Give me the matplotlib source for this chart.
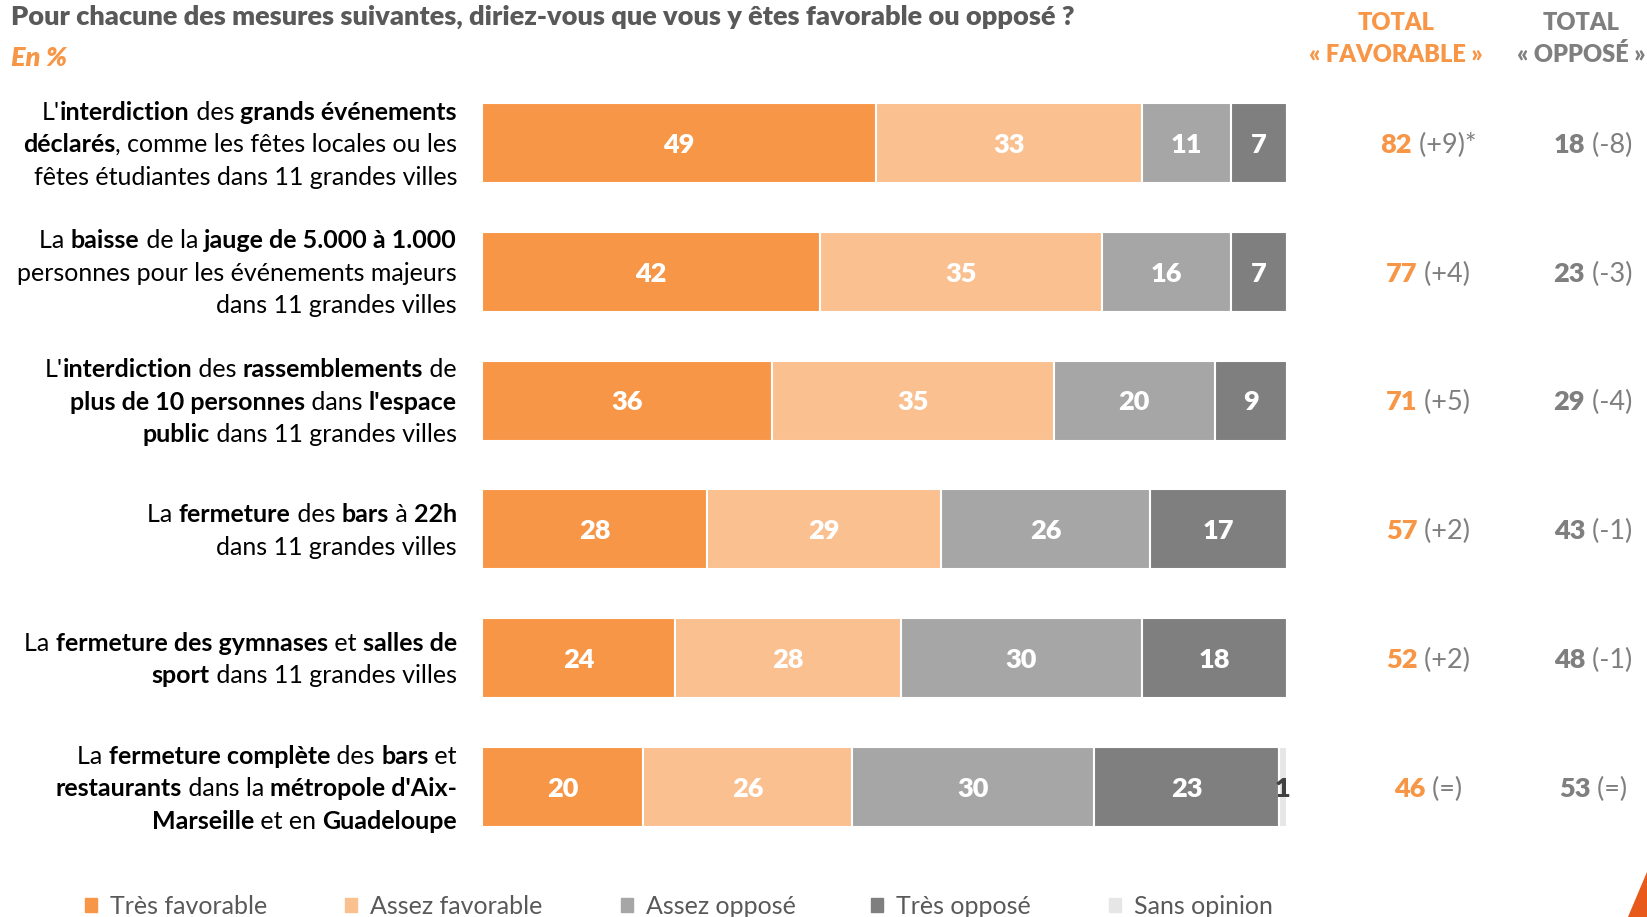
import numpy as np
import matplotlib
matplotlib.use("Agg")
import matplotlib.pyplot as plt
from matplotlib.patches import Rectangle, Polygon
from matplotlib.transforms import IdentityTransform, ScaledTranslation

plt.rcParams["font.family"] = ["Lato", "DejaVu Sans"]

W, H = 1647, 917

title = "Pour chacune des mesures suivantes, diriez-vous que vous y êtes favorable ou opposé ?"
subtitle = "En %"

# each label: list of lines, each line: list of (text, bold)
labels = [
    [[("L'", 0), ("interdiction", 1), (" des ", 0), ("grands événements", 1)],
     [("déclarés", 1), (", comme les fêtes locales ou les", 0)],
     [("fêtes étudiantes dans 11 grandes villes", 0)]],
    [[("La ", 0), ("baisse", 1), (" de la ", 0), ("jauge de 5.000 à 1.000", 1)],
     [("personnes pour les événements majeurs", 0)],
     [("dans 11 grandes villes", 0)]],
    [[("L'", 0), ("interdiction", 1), (" des ", 0), ("rassemblements", 1), (" de", 0)],
     [("plus de 10 personnes", 1), (" dans ", 0), ("l'espace", 1)],
     [("public", 1), (" dans 11 grandes villes", 0)]],
    [[("La ", 0), ("fermeture", 1), (" des ", 0), ("bars", 1), (" à ", 0), ("22h", 1)],
     [("dans 11 grandes villes", 0)]],
    [[("La ", 0), ("fermeture des gymnases", 1), (" et ", 0), ("salles de", 1)],
     [("sport", 1), (" dans 11 grandes villes", 0)]],
    [[("La ", 0), ("fermeture complète", 1), (" des ", 0), ("bars", 1), (" et", 0)],
     [("restaurants", 1), (" dans la ", 0), ("métropole d'Aix-", 1)],
     [("Marseille", 1), (" et en ", 0), ("Guadeloupe", 1)]],
]

series_names = ["Très favorable", "Assez favorable", "Assez opposé", "Très opposé", "Sans opinion"]
tres_fav = [49, 42, 36, 28, 24, 20]
assez_fav = [33, 35, 35, 29, 28, 26]
assez_opp = [11, 16, 20, 26, 30, 30]
tres_opp = [7, 7, 9, 17, 18, 23]
sans_op = [0, 0, 0, 0, 0, 1]

total_fav = [82, 77, 71, 57, 52, 46]
fav_change = ["(+9)*", "(+4)", "(+5)", "(+2)", "(+2)", "(=)"]
total_opp = [18, 23, 29, 43, 48, 53]
opp_change = ["(-8)", "(-3)", "(-4)", "(-1)", "(-1)", "(=)"]

colors = ["#F79646", "#FAC090", "#A6A6A6", "#7F7F7F", "#E6E6E6"]
value_colors = ["white", "white", "white", "white", "#404040"]
ORANGE = "#F79646"
GREY = "#7F7F7F"
DARK = "#595959"

SIZE = 18        # labels, legend
NUM_SIZE = 19.5  # numbers in bars and totals
HEAD_SIZE = 17
TITLE_SIZE = 19.5
HEAVY = "heavy"


def cap_of(size):
    return 0.72 * size * 100 / 72


fig = plt.figure(figsize=(W / 100, H / 100), dpi=100)
renderer = fig.canvas.get_renderer()
ident = IdentityTransform()

# bars
row0, step = 143, 128.8
ax_top = row0 - step / 2
ax = fig.add_axes([482 / W, 1 - (ax_top + 6 * step) / H, (1287 - 482) / W, 6 * step / H])
ax.set_xlim(0, 100)
ax.set_ylim(5.5, -0.5)
ax.axis("off")

shift = ScaledTranslation(0, -cap_of(NUM_SIZE) / 2 / 100, fig.dpi_scale_trans)
y = np.arange(len(tres_fav))
left = np.zeros(len(y))
for vals, col, tcol in zip([tres_fav, assez_fav, assez_opp, tres_opp, sans_op], colors, value_colors):
    vals = np.array(vals)
    ax.barh(y, vals, left=left, height=0.62, color=col, edgecolor="white", linewidth=1.5)
    for i, v in enumerate(vals):
        if v > 0:
            ax.text(left[i] + v / 2, i, str(v), ha="center", va="baseline", color=tcol,
                    fontsize=NUM_SIZE, fontweight=HEAVY, transform=ax.transData + shift)
    left += vals


def seg_width(s, weight, size):
    t = fig.text(0, 0, "|" + s + "|", transform=ident, fontsize=size, fontweight=weight)
    w = t.get_window_extent(renderer).width
    t.remove()
    t = fig.text(0, 0, "||", transform=ident, fontsize=size, fontweight=weight)
    w0 = t.get_window_extent(renderer).width
    t.remove()
    return w - w0


def rich_line(x, base, segs, size=SIZE, ha="left"):
    widths = [seg_width(s, wt, size) for s, wt, c in segs]
    total = sum(widths)
    if ha == "right":
        x -= total
    elif ha == "center":
        x -= total / 2
    for (s, wt, c), w in zip(segs, widths):
        fig.text(x, base, s, transform=ident, fontsize=size, color=c,
                 fontweight=wt, ha="left", va="baseline")
        x += w


line_h = 32.5
for i, lines in enumerate(labels):
    yc = ax.transData.transform((0, i))[1]
    n = len(lines)
    for k, line in enumerate(lines):
        base = yc + ((n - 1) / 2 - k) * line_h - cap_of(SIZE) / 2
        rich_line(457, base, [(s, "bold" if b else "normal", "black") for s, b in line], ha="right")
    nb = yc - cap_of(NUM_SIZE) / 2
    rich_line(1428, nb, [(str(total_fav[i]), HEAVY, ORANGE), (" " + fav_change[i], "normal", GREY)],
              size=NUM_SIZE, ha="center")
    rich_line(1593, nb, [(str(total_opp[i]), HEAVY, GREY), (" " + opp_change[i], "normal", GREY)],
              size=NUM_SIZE, ha="center")

# column headers
for xc, word, col in [(1396, "« FAVORABLE »", ORANGE), (1581, "« OPPOSÉ »", GREY)]:
    fig.text(xc, H - 30, "TOTAL", transform=ident, ha="center", va="baseline",
             fontsize=HEAD_SIZE, fontweight=HEAVY, color=col)
    fig.text(xc, H - 62, word, transform=ident, ha="center", va="baseline",
             fontsize=HEAD_SIZE, fontweight=HEAVY, color=col)

# title
fig.text(11, H - 25, title, transform=ident, ha="left", va="baseline",
         fontsize=TITLE_SIZE, fontweight=HEAVY, color=DARK)
fig.text(11, H - 66, subtitle, transform=ident, ha="left", va="baseline",
         fontsize=TITLE_SIZE, fontweight=HEAVY, fontstyle="italic", color=ORANGE)

# legend
leg_marker_x = [91, 351, 627, 877, 1115]
leg_y = H - 905
for name, col, lx in zip(series_names, colors, leg_marker_x):
    fig.add_artist(Rectangle((lx - 6, leg_y - 7), 12, 14, transform=ident, color=col))
    fig.text(lx + 19, leg_y - cap_of(SIZE) / 2, name, transform=ident, ha="left", va="baseline",
             fontsize=SIZE, color=DARK)

# corner decoration
fig.add_artist(Polygon([(1628, 0), (1647, 0), (1647, 45)], closed=True, transform=ident, color="#E85A1B"))

fig.savefig("out.png", dpi=100)
